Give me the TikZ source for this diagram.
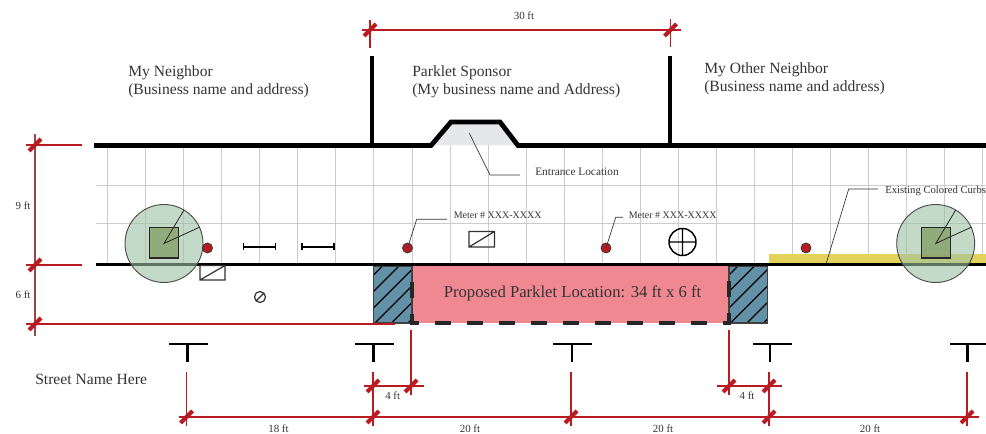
\documentclass[tikz,border=0pt]{standalone}
\usepackage{fontspec}
\setmainfont{Liberation Serif}
\definecolor{dimred}{HTML}{B81C22}
\definecolor{dimbrown}{HTML}{97493E}
\definecolor{gridgray}{HTML}{CCCCCC}
\definecolor{labelgray}{HTML}{333333}
\definecolor{treegreen}{HTML}{9DC2A3}
\definecolor{trunkgreen}{HTML}{89A56F}
\definecolor{parkletpink}{HTML}{F08891}
\definecolor{bufferblue}{HTML}{6392A8}
\definecolor{curbyellow}{HTML}{E5D25C}
\definecolor{entrancegray}{HTML}{E6E7E8}
\tikzset{
	wall/.style={line width=3.6pt, black},
	curbline/.style={line width=2.6pt, black},
	gridline/.style={line width=0.6pt, gridgray},
	dimline/.style={line width=1.3pt, dimred},
	dimslash/.style={line width=3pt, dimred},
	leader/.style={line width=0.5pt, labelgray},
	meter/.style={circle, draw=black!80, line width=0.6pt, fill=dimred, inner sep=0pt, minimum size=7.5pt},
	biglabel/.style={anchor=west, align=left, inner sep=0pt, text=labelgray, font=\fontsize{11.7}{13.6}\selectfont},
	smalllabel/.style={anchor=west, inner sep=0pt, text=labelgray, font=\fontsize{8.5}{10}\selectfont},
	curblabel/.style={anchor=west, inner sep=0pt, text=labelgray, font=\fontsize{8}{10}\selectfont},
	meterlabel/.style={anchor=west, inner sep=0pt, text=labelgray, font=\fontsize{7.5}{9}\selectfont},
	dimlabel/.style={text=labelgray, inner sep=0pt, font=\fontsize{8.2}{10}\selectfont},
	sign/.style={line width=2.2pt, black},
	furniture/.style={line width=0.9pt, black!80}
}
\begin{document}
\begin{tikzpicture}[x=0.75pt,y=-0.75pt]
	\useasboundingbox (0,0) rectangle (986,434);

	% Sidewalk grid
	\foreach \n in {0,...,23} {
		\draw[gridline] (107.5+38.05*\n,145) -- (107.5+38.05*\n,264);
	}
	\draw[gridline] (96,185.3) -- (986,185.3);
	\draw[gridline] (96,223.3) -- (986,223.3);

	% Colored curb
	\fill[curbyellow] (769,254) rectangle (986,264);

	% Parklet and buffers
	\fill[parkletpink] (412,266) rectangle (729,323);
	\foreach \x in {373.5,729} {
		\begin{scope}
			\clip (\x,266) rectangle (\x+38.5,323);
			\fill[bufferblue] (\x,266) rectangle (\x+38.5,323);
			\foreach \c in {-64.5,-48,...,40} {
				\draw[line width=1pt, black] (\x+\c,323) -- (\x+\c+62,261);
			}
		\end{scope}
		\draw[line width=0.8pt, black!75] (\x,266) rectangle (\x+38.5,323);
	}
	\draw[line width=2.4pt, black!85, dash pattern=on 12pt off 12pt, dash phase=12pt]
		(412,266) -- (412,323) -- (729,323) -- (729,266);
	\node[text=labelgray, inner sep=0pt, font=\fontsize{12.5}{15}\selectfont] (parklet) at (572.5,293) {Proposed Parklet Location: 34 ft x 6 ft};

	% Building fronts
	\fill[entrancegray] (431,145.5) -- (451,122) -- (500,122) -- (518,145.5) -- cycle;
	\draw[wall] (94,145.5) -- (431,145.5) -- (451,122) -- (500,122) -- (518,145.5) -- (986,145.5);
	\draw[wall] (372,56) -- (372,145.5);
	\draw[wall] (670,56) -- (670,145.5);

	% Curb
	\draw[curbline] (96,264.5) -- (986,264.5);

	% Trees
	\foreach \x in {164,935.7} {
		\fill[treegreen, fill opacity=0.6] (\x,243.5) circle (39);
		\draw[line width=0.7pt, black!70] (\x,243.5) circle (39);
		\draw[line width=1pt, black!85, fill=trunkgreen, fill opacity=0.85] (\x-14.5,227.5) rectangle (\x+14.5,258);
		\draw[line width=0.6pt, black!85] (\x+20,210) -- (\x,243.5) -- (\x+36,227);
	}

	% Meters
	\node[meter] (meterA) at (207.5,248) {};
	\node[meter] (meterB) at (407.5,248) {};
	\node[meter] (meterC) at (606,248) {};
	\node[meter] (meterD) at (806,248) {};

	% Street furniture
	\foreach \x in {243.5,302} {
		\draw[line width=1.4pt, black] (\x,243.5) -- (\x,250.5);
		\draw[line width=1.4pt, black] (\x,247) -- (\x+32,247);
		\draw[line width=1.4pt, black] (\x+32,243.5) -- (\x+32,250.5);
	}
	\draw[furniture] (200,265.5) rectangle (225,280) (200,280) -- (225,265.5);
	\draw[furniture] (469,231.5) rectangle (494.5,247) (469,247) -- (494.5,231.5);
	\draw[furniture] (260,297) circle (5.5) (256,301) -- (264,293);
	\draw[line width=1.1pt, black] (682.5,242) circle (13.5) (669,242) -- (696,242) (682.5,228.5) -- (682.5,255.5);

	% Signs
	\foreach \x/\l/\r in {187.5/169/208, 373.5/355/394, 572/553/592, 770/753/792, 967.5/950/986} {
		\draw[sign] (\l,344) -- (\r,344);
		\draw[sign] (\x,344) -- (\x,362);
	}

	% Names
	\node[biglabel] (neighbor) at (128,81.5) {My Neighbor\\(Business name and address)};
	\node[biglabel] (sponsor) at (412,81.5) {Parklet Sponsor\\(My business name and Address)};
	\node[biglabel] (otherneighbor) at (704,79) {My Other Neighbor\\(Business name and address)};
	\node[biglabel] (street) at (35,379) {Street Name Here};

	% Leaders
	\node[smalllabel] (entrance) at (535,171.5) {Entrance Location};
	\node[meterlabel] (meterlabelA) at (453.5,215.6) {Meter \# XXX-XXXX};
	\node[meterlabel] (meterlabelC) at (628.5,215.6) {Meter \# XXX-XXXX};
	\node[curblabel] (curbs) at (885,191) {Existing Colored Curbs};
	\coordinate (entranceEnd) at (520,175);
	\coordinate (entranceStart) at (469.3,133.3);
	\coordinate (meterEndA) at (447,219.3);
	\coordinate (meterEndC) at (623,217.3);
	\coordinate (curbEnd) at (878,189);
	\coordinate (curbStart) at (826,264);
	\draw[leader] (entranceStart) -- (490,175) -- (entranceEnd);
	\draw[leader] (meterB.center) -- (416.7,219.3) -- (meterEndA);
	\draw[leader] (meterC.center) -- (615.7,217.3) -- (meterEndC);
	\draw[leader] (curbStart) -- (848.7,189) -- (curbEnd);

	% Top dimension
	\coordinate (topA) at (370,30);
	\coordinate (topB) at (670.5,30);
	\draw[dimline] ([shift={(-8,0)}]topA) -- ([shift={(10,0)}]topB);
	\draw[dimline] ([shift={(0,-10)}]topA) -- ([shift={(0,18)}]topA);
	\draw[dimline] ([shift={(0,-11)}]topB) -- ([shift={(0,17)}]topB);
	\node[dimlabel] (topfeet) at (524,15.5) {30 ft};

	% Left dimension
	\coordinate (leftA) at (35,145);
	\coordinate (leftB) at (35,265);
	\coordinate (leftC) at (35,324);
	\draw[line width=1.3pt, dimbrown] ([shift={(0,-11)}]leftA) -- ([shift={(0,12)}]leftC);
	\draw[dimline] ([shift={(-9,0)}]leftA) -- ([shift={(47,0)}]leftA);
	\draw[dimline] ([shift={(-9,0)}]leftB) -- ([shift={(47,0)}]leftB);
	\draw[dimline] ([shift={(-9,0)}]leftC) -- ([shift={(360,0)}]leftC);
	\node[dimlabel] (leftfeetA) at (23,206) {9 ft};
	\node[dimlabel] (leftfeetB) at (23,295) {6 ft};

	% Bottom dimensions
	\foreach \name/\x in {A/186.5, B/373, C/571, D/769, E/967} {
		\coordinate (base\name) at (\x,417);
		\draw[dimline] (\x,372) -- ([shift={(0,9)}]base\name);
	}
	\draw[dimline] ([shift={(-8,0)}]baseA) -- ([shift={(12,0)}]baseE);
	\node[dimlabel] (feetA) at (278.5,429) {18 ft};
	\node[dimlabel] (feetB) at (470,429) {20 ft};
	\node[dimlabel] (feetC) at (663,429) {20 ft};
	\node[dimlabel] (feetD) at (870,429) {20 ft};

	% Buffer dimensions
	\coordinate (bufferA) at (411,386);
	\coordinate (bufferB) at (729,386);
	\draw[dimline] (411,330) -- ([shift={(0,9)}]bufferA);
	\draw[dimline] (729,330) -- ([shift={(0,9)}]bufferB);
	\draw[dimline] (364,386) -- ([shift={(13,0)}]bufferA);
	\draw[dimline] ([shift={(-12,0)}]bufferB) -- (782,386);
	\node[dimlabel] (bufferfeetA) at (392.7,396) {4 ft};
	\node[dimlabel] (bufferfeetB) at (747,396) {4 ft};

	% Slash marks
	\foreach \x/\y in {370/30, 670.5/30, 35/145, 35/265, 35/324, 186.5/417, 373/417, 571/417, 769/417, 967/417, 373/386, 411/386, 729/386, 769/386} {
		\draw[dimslash] (\x-6,\y+6) -- (\x+6,\y-6);
	}

\end{tikzpicture}
\end{document}
